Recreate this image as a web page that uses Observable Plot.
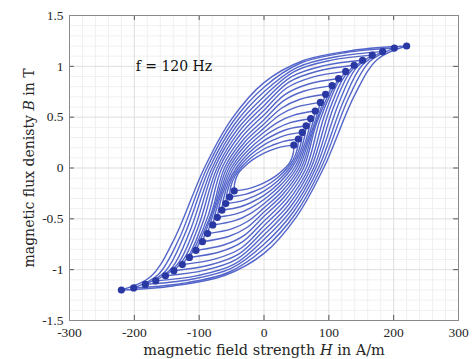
<!DOCTYPE html>
<html><head><meta charset="utf-8">
<script src="https://cdn.jsdelivr.net/npm/d3@7"></script>
<script src="https://cdn.jsdelivr.net/npm/@observablehq/plot@0.6"></script>
<style>body{margin:0;background:#fff}#chart svg{display:block}</style>
</head><body><div id="chart"></div>
<script>
// Loop tips (peak field H in A/m, peak flux density B in T), innermost -> outermost
const tipH = [46, 53, 59, 65, 72, 79, 87, 95, 105, 115, 126, 139, 152, 167, 183, 201, 220];
const tipB = [0.225, 0.285, 0.35, 0.415, 0.485, 0.56, 0.645, 0.725, 0.81, 0.88, 0.95, 1.01, 1.06, 1.11, 1.145, 1.18, 1.20];
// Descending branch, read point by point (H, B); the ascending branch is its point reflection
const knee1H = [25, 29, 32.6, 36.3, 40.5, 44.8, 49.8, 54.7, 61, 67.6, 75, 83.7, 92.5, 102.7, 113.8, 126.4, 140];
const knee1B = [0.205, 0.26, 0.321, 0.381, 0.447, 0.518, 0.598, 0.674, 0.755, 0.824, 0.894, 0.954, 1.007, 1.059, 1.097, 1.136, 1.16];
const knee2H = [12, 13.9, 15.7, 17.6, 19.7, 21.8, 24.3, 26.9, 30, 32.7, 35.6, 39.1, 42.5, 46.5, 50.6, 55.2, 60];
const knee2B = [0.178, 0.226, 0.279, 0.332, 0.389, 0.451, 0.521, 0.588, 0.66, 0.724, 0.789, 0.847, 0.898, 0.949, 0.988, 1.028, 1.055];
// Remanence: B at H = 0
const remB = [0.146, 0.187, 0.228, 0.269, 0.31, 0.351, 0.392, 0.433, 0.475, 0.521, 0.567, 0.613, 0.658, 0.704, 0.75, 0.795, 0.84];
// Point between remanence and coercivity (|H|, B)
const midH = [19, 20.5, 22, 23.5, 25, 26.5, 28, 29.5, 31, 33.5, 36, 38.5, 41, 43.5, 45.5, 48, 50];
const midB = [0.075, 0.098, 0.122, 0.147, 0.173, 0.2, 0.228, 0.256, 0.285, 0.309, 0.334, 0.358, 0.381, 0.405, 0.43, 0.455, 0.48];
// Coercive field: |H| at B = 0
const coerH = [32.5, 36, 39.5, 43, 47, 50.5, 54, 57.5, 61, 65, 69, 72.5, 76.5, 80, 84, 88, 92];
// Steep part below zero (|H|, |B|)
const steepH = [40, 45, 50, 55, 60, 65, 70, 75, 80, 86, 93, 100, 107, 115, 123, 131, 140];
const steepB = [0.056, 0.081, 0.111, 0.145, 0.186, 0.234, 0.292, 0.352, 0.42, 0.466, 0.512, 0.554, 0.593, 0.633, 0.664, 0.696, 0.72];
// Bend into the negative tip (|H|, |B|)
const bendH = [45.3, 51.8, 57.2, 62.5, 68.8, 74.8, 81.7, 88.5, 97, 104.4, 112.4, 121.8, 130.7, 140.8, 151.3, 163, 175];
const bendB = [0.15, 0.197, 0.25, 0.305, 0.369, 0.438, 0.52, 0.601, 0.69, 0.754, 0.819, 0.876, 0.924, 0.973, 1.01, 1.047, 1.07];

const xTicks = [-300, -200, -100, 0, 100, 200, 300];
const yTicks = [-1.5, -1, -0.5, 0, 0.5, 1, 1.5];
const xMinor = [-280,-260,-240,-220,-180,-160,-140,-120,-80,-60,-40,-20,20,40,60,80,120,140,160,180,220,240,260,280];
const yMinor = [-1.4,-1.3,-1.2,-1.1,-0.9,-0.8,-0.7,-0.6,-0.4,-0.3,-0.2,-0.1,0.1,0.2,0.3,0.4,0.6,0.7,0.8,0.9,1.1,1.2,1.3,1.4];
const noteText = ["f = 120 Hz"];
const noteH = [-198];
const noteB = [1.0];

const rows = [];
const tips = [];
tipH.forEach((hm, i) => {
  const desc = [
    [hm, tipB[i]], [knee1H[i], knee1B[i]], [knee2H[i], knee2B[i]], [0, remB[i]],
    [-midH[i], midB[i]], [-coerH[i], 0], [-steepH[i], -steepB[i]], [-bendH[i], -bendB[i]], [-hm, -tipB[i]]
  ];
  desc.forEach(([H, B]) => rows.push({H, B, key: "d" + i}));
  desc.forEach(([H, B]) => rows.push({H: -H, B: -B, key: "a" + i}));
  tips.push({H: hm, B: tipB[i]}, {H: -hm, B: -tipB[i]});
});

const X0 = xTicks[0], X1 = xTicks[xTicks.length - 1];
const Y0 = yTicks[0], Y1 = yTicks[yTicks.length - 1];
const tickFont = "'Liberation Serif', 'DejaVu Serif', serif";
const labelFont = "'DejaVu Serif', 'Liberation Serif', serif";

const chart = Plot.plot({
  width: 472, height: 359,
  marginLeft: 69, marginRight: 14, marginTop: 15, marginBottom: 39,
  style: {fontFamily: tickFont, fontSize: "13.5px", color: "#262626", background: "#fff"},
  x: {domain: [X0, X1], label: null},
  y: {domain: [Y0, Y1], label: null},
  marks: [
    Plot.ruleX(xMinor, {x: d => d, stroke: "#f0f0f0", strokeWidth: 1}),
    Plot.ruleY(yMinor, {y: d => d, stroke: "#f0f0f0", strokeWidth: 1}),
    Plot.ruleX(xTicks, {x: d => d, stroke: "#dedede", strokeWidth: 1}),
    Plot.ruleY(yTicks, {y: d => d, stroke: "#dedede", strokeWidth: 1}),
    Plot.line(rows, {x: "H", y: "B", z: "key", curve: "catmull-rom", stroke: "#5466ca", strokeWidth: 1.4}),
    Plot.dot(tips, {x: "H", y: "B", r: 3.6, fill: "#2a38a4", stroke: "none"}),
    Plot.text(noteText, {x: noteH, y: noteB, text: d => d, textAnchor: "start", fontSize: 14, fontFamily: labelFont, fill: "#111"}),
    Plot.ruleX(xTicks, {x: d => d, y1: Y0, y2: Y0 + 0.05, stroke: "#555"}),
    Plot.ruleX(xTicks, {x: d => d, y1: Y1, y2: Y1 - 0.05, stroke: "#555"}),
    Plot.ruleY(yTicks, {y: d => d, x1: X0, x2: X0 + 7.5, stroke: "#555"}),
    Plot.ruleY(yTicks, {y: d => d, x1: X1, x2: X1 - 7.5, stroke: "#555"}),
    Plot.frame({stroke: "#8a8a8a"}),
    Plot.axisX({ticks: xTicks, tickSize: 0, tickPadding: 7, tickFormat: d => String(d), label: null, fill: "#262626"}),
    Plot.axisY({ticks: yTicks, tickSize: 0, tickPadding: 6, tickFormat: d => String(d), label: null, fill: "#262626"})
  ]
});
document.getElementById("chart").appendChild(chart);

const svg = d3.select(chart);
const xl = svg.append("text").attr("x", 264).attr("y", 355).attr("text-anchor", "middle")
  .attr("font-family", labelFont).attr("font-size", 14.5).attr("fill", "#262626");
xl.append("tspan").text("magnetic field strength ");
xl.append("tspan").attr("font-style", "italic").text("H");
xl.append("tspan").text(" in A/m");
const yl = svg.append("text").attr("transform", "translate(34,168) rotate(-90)").attr("text-anchor", "middle")
  .attr("font-family", labelFont).attr("font-size", 14).attr("fill", "#262626");
yl.append("tspan").text("magnetic flux denisty ");
yl.append("tspan").attr("font-style", "italic").text("B");
yl.append("tspan").text(" in T");
</script></body></html>
